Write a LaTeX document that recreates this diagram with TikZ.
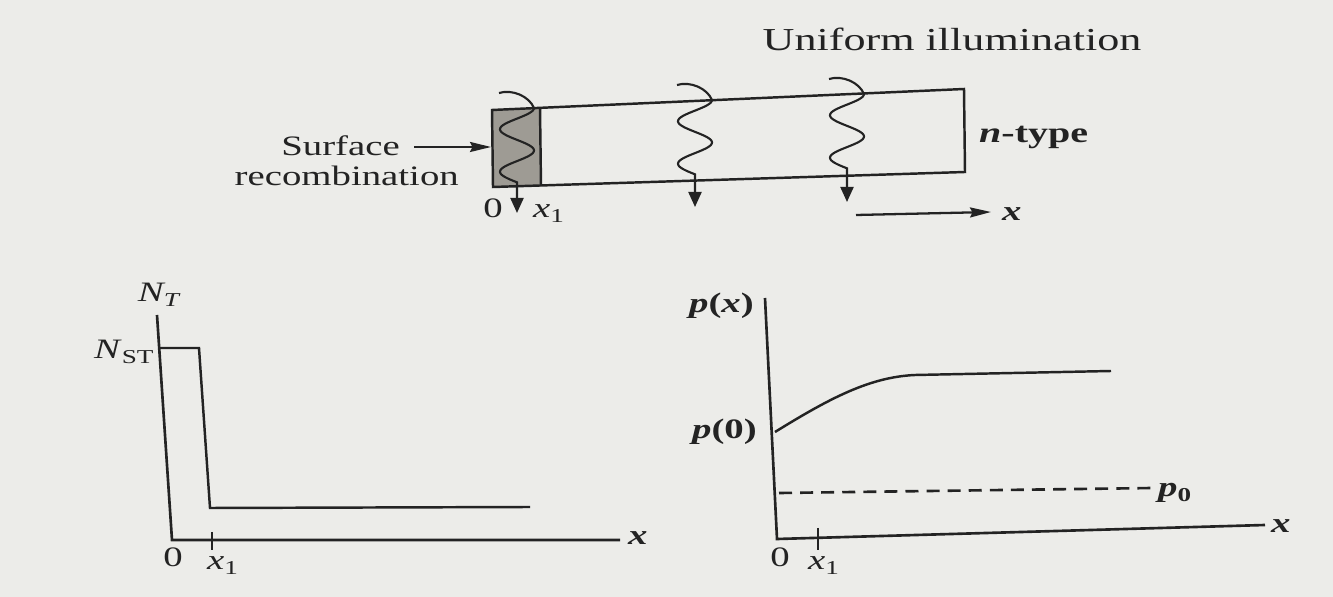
\documentclass[tikz,border=0pt]{standalone}
\usepackage{fontspec}
\setmainfont{Liberation Serif}
\usetikzlibrary{arrows.meta}
\definecolor{paper}{RGB}{236,236,233}
\definecolor{ink}{RGB}{35,35,35}
\definecolor{shadegray}{RGB}{158,155,148}
\newcommand{\sw}[1]{\scalebox{1.38}[1]{#1}}
\newcommand{\lightray}[4]{%
  \draw[ray] ({#1-35},{#2-15}) .. controls ({#1-22},{#2-19}) and ({#1-5},{#2-12}) .. (#1,#2)
    -- plot[domain=0:630,samples=80,smooth] ({#1-#4+#4*cos(\x)},{#2+\x*0.118}) -- ({#1-#4},#3);}
\begin{document}
\begin{tikzpicture}[x=0.02cm,y=-0.02cm,line width=1.4pt,draw=ink,
  every node/.style={font=\fontsize{16}{19}\selectfont,text=ink,inner sep=0pt},
  big/.style={font=\fontsize{18.2}{21}\selectfont},
  ray/.style={line width=1.2pt,-{Triangle[length=0.3cm,width=0.26cm]}},
  arr/.style={-{Stealth[length=0.42cm,width=0.2cm,inset=0.05cm]}},
  axis/.style={line width=1.5pt}]
\fill[paper] (0,0) rectangle (1333,597);
\useasboundingbox (0,0) rectangle (1333,597);

% ---------- bar ----------
\fill[shadegray] (492,110) -- (540,108) -- (541,186) -- (493,187) -- cycle;
\draw (492,110) -- (964,89) -- (965,172) -- (493,187) -- cycle;
\draw (540,108) -- (541,186);
\lightray{534}{108}{213}{17}
\lightray{712}{100}{207}{17}
\lightray{864}{94}{202}{17}

\node[big,anchor=base] (ui) at (952,51) {\sw{Uniform illumination}};
\node[anchor=base west,font=\fontsize{16.5}{19}\selectfont] (nt) at (978,143) {\sw{\textbf{\textit{n}-type}}};
\node[anchor=base east] (sf) at (401,156) {\sw{Surface}};
\node[anchor=base east] (rc) at (460,186) {\sw{recombination}};
\coordinate (sfa) at (414,147);
\coordinate (sfb) at (491,147);
\draw[arr,line width=1.2pt] (sfa) -- (sfb);
\node[anchor=base] (b0) at (493,218) {\sw{0}};
\node[anchor=base west] (bx1) at (532,218) {\sw{\textit{x}\textsubscript{1}}};
\coordinate (xa) at (856,215);
\coordinate (xb) at (991,212);
\draw[arr,line width=1.3pt] (xa) -- (xb);
\node[anchor=base west] (bx) at (1001,221) {\sw{\textbf{\textit{x}}}};

% ---------- left plot ----------
\coordinate (lo) at (172,540);
\draw[axis] (157,315) -- (lo) -- (620,540);
\node[anchor=base west] (lx) at (627,545) {\sw{\textbf{\textit{x}}}};
\draw (159,348) -- (199,348) -- (210,508) -- (530,507);
\draw[axis] (212,532) -- (212,550);
\node (lnt) at (159,295) {\sw{\textit{N\textsubscript{T}}}};
\node[anchor=east] (lnst) at (156,352) {\sw{\textit{N}\textsubscript{ST}}};
\node[anchor=base] (l0) at (173,567) {\sw{0}};
\node[anchor=base west] (lx1) at (206,570) {\sw{\textit{x}\textsubscript{1}}};

% ---------- right plot ----------
\coordinate (ro) at (777,539);
\draw[axis] (765,298) -- (ro) -- (1265,525);
\node[anchor=base west] (rx) at (1270,533) {\sw{\textbf{\textit{x}}}};
\draw[axis] (818,528) -- (818,550);
\draw (775,432) .. controls (830,398) and (870,377) .. (915,375) -- (1111,371);
\draw[axis,dash pattern=on 7.4pt off 4.6pt] (779,493) -- (1153,488);
\node[anchor=east] (rpx) at (755,306) {\sw{\textbf{\textit{p}(\textit{x})}}};
\node[anchor=east] (rp0) at (758,432) {\sw{\textbf{\textit{p}(0)}}};
\node[anchor=base west] (rpz) at (1157,497) {\sw{\textbf{\textit{p}\textsubscript{0}}}};
\node[anchor=base] (r0) at (780,567) {\sw{0}};
\node[anchor=base west] (rx1) at (807,570) {\sw{\textit{x}\textsubscript{1}}};
\end{tikzpicture}
\end{document}
